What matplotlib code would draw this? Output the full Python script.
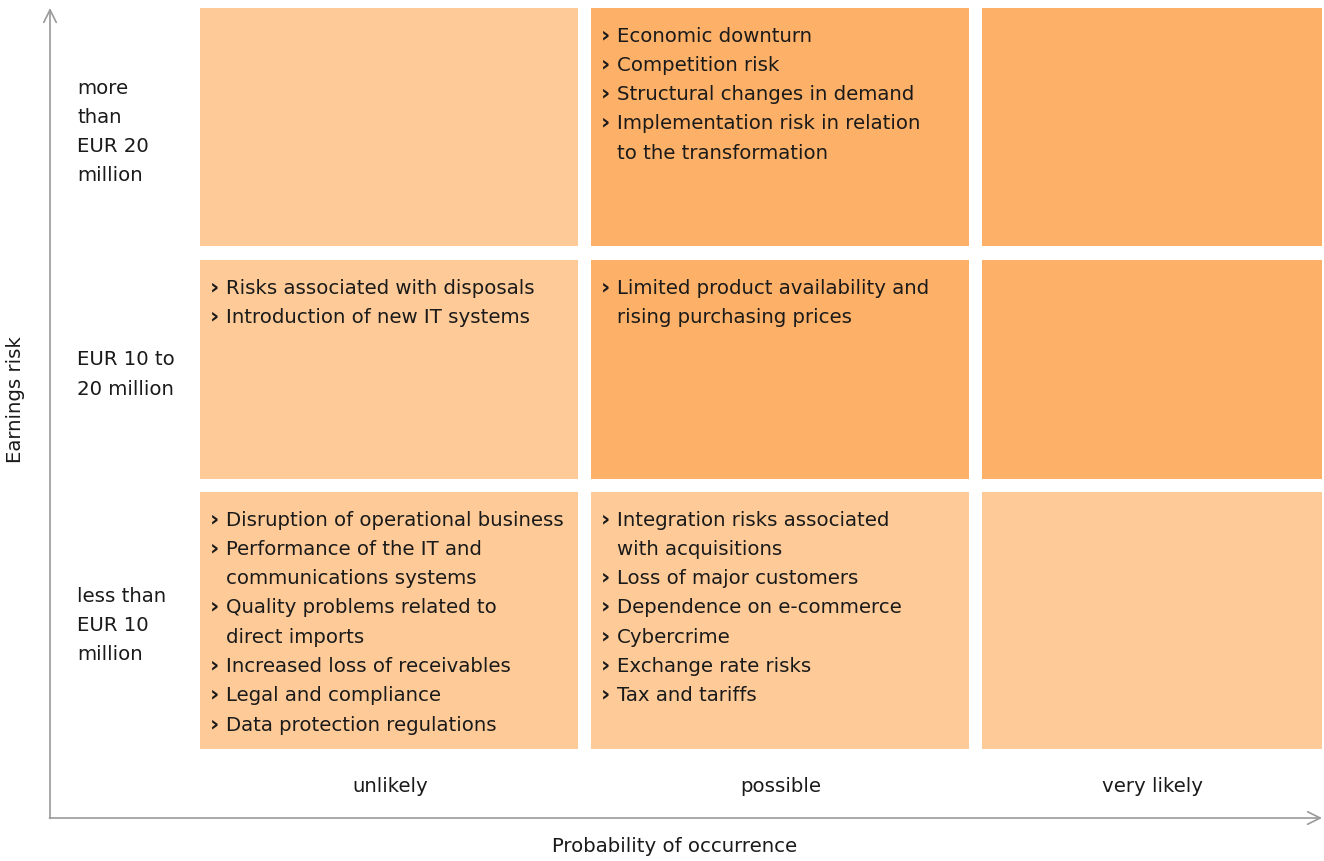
import matplotlib
matplotlib.use("Agg")
import matplotlib.pyplot as plt
from matplotlib.patches import Rectangle

plt.rcParams['font.family'] = ['DejaVu Sans']

# Datos del gráfico
etiquetas_filas = [
    ["more", "than", "EUR 20", "million"],
    ["EUR 10 to", "20 million"],
    ["less than", "EUR 10", "million"],
]
etiquetas_columnas = ["unlikely", "possible", "very likely"]

# nivel de riesgo por celda (1 = bajo, 2 = alto)
niveles = [
    [1, 2, 2],
    [1, 2, 2],
    [1, 1, 1],
]

# riesgos por celda; cada riesgo es una lista de líneas
riesgos = {
    (0, 1): [["Economic downturn"], ["Competition risk"],
             ["Structural changes in demand"],
             ["Implementation risk in relation", "to the transformation"]],
    (1, 0): [["Risks associated with disposals"],
             ["Introduction of new IT systems"]],
    (1, 1): [["Limited product availability and", "rising purchasing prices"]],
    (2, 0): [["Disruption of operational business"],
             ["Performance of the IT and", "communications systems"],
             ["Quality problems related to", "direct imports"],
             ["Increased loss of receivables"],
             ["Legal and compliance"],
             ["Data protection regulations"]],
    (2, 1): [["Integration risks associated", "with acquisitions"],
             ["Loss of major customers"],
             ["Dependence on e-commerce"],
             ["Cybercrime"],
             ["Exchange rate risks"],
             ["Tax and tariffs"]],
}

titulo_x = "Probability of occurrence"
titulo_y = "Earnings risk"

# Diseño (en píxeles)
col_izq = [200, 591, 982]
col_ancho = [378, 378, 340]
fila_arriba = [8, 260, 492]
fila_alto = [238, 219, 257]
colores = {1: "#FECB98", 2: "#FDB067"}
interlineado = 29.3
tam = 14.2
color_texto = "#1a1a1a"
color_eje = "#9a9a9a"

fig = plt.figure(figsize=(13.24, 8.61), dpi=100)
ax = fig.add_axes([0, 0, 1, 1])
ax.set_xlim(0, 1324)
ax.set_ylim(861, 0)
ax.axis("off")

for i in range(3):
    for j in range(3):
        ax.add_patch(Rectangle((col_izq[j], fila_arriba[i]), col_ancho[j], fila_alto[i],
                               facecolor=colores[niveles[i][j]], edgecolor="none"))
        y = fila_arriba[i] + 28
        for riesgo in riesgos.get((i, j), []):
            ax.text(col_izq[j] + 10, y - 1, "\u203a", fontsize=tam + 2, fontweight="bold",
                    va="center", ha="left", color=color_texto)
            for linea in riesgo:
                ax.text(col_izq[j] + 26, y, linea, fontsize=tam, va="center",
                        ha="left", color=color_texto)
                y += interlineado

# etiquetas de filas
for i, lineas in enumerate(etiquetas_filas):
    centro = fila_arriba[i] + fila_alto[i] / 2 + 5
    y0 = centro - (len(lineas) - 1) * interlineado / 2
    for k, linea in enumerate(lineas):
        ax.text(77, y0 + k * interlineado, linea, fontsize=tam, va="center",
                ha="left", color=color_texto)

# etiquetas de columnas
for j, etiqueta in enumerate(etiquetas_columnas):
    ax.text(col_izq[j] + col_ancho[j] / 2 + 1, 787, etiqueta, fontsize=tam,
            va="center", ha="center", color=color_texto)

# ejes con flechas
flecha = dict(arrowstyle="->,head_length=0.9,head_width=0.45", color=color_eje,
              lw=1.2, shrinkA=0, shrinkB=0)
ax.annotate("", xy=(50, 8), xytext=(50, 818.5), arrowprops=flecha)
ax.annotate("", xy=(1322, 818), xytext=(49.5, 818), arrowprops=flecha)

ax.text(675, 847, titulo_x, fontsize=tam, ha="center", va="center", color=color_texto)
ax.text(16, 400, titulo_y, fontsize=tam, ha="center", va="center", rotation=90,
        color=color_texto)

plt.savefig("out.png", dpi=100)
plt.close()
